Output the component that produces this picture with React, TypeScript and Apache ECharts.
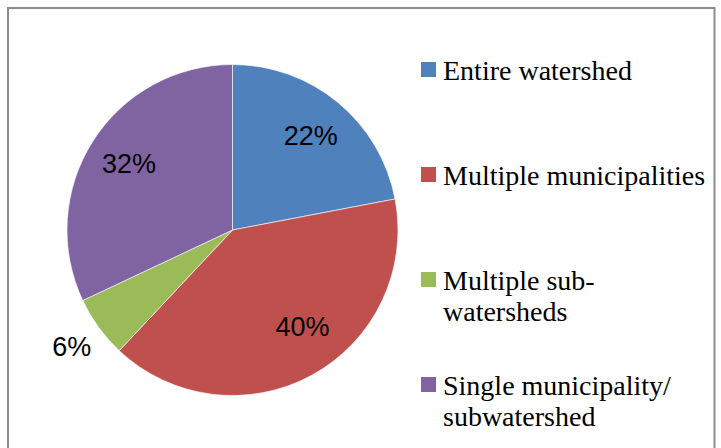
import React, { useEffect, useRef } from "react";
import * as echarts from "echarts";

// Scope of the plans, share of respondents (%)
const categories = [
  "Entire watershed",
  "Multiple municipalities",
  "Multiple sub-\nwatersheds",
  "Single municipality/\nsubwatershed",
];
const shares = [22, 40, 6, 32];
const sliceColors = ["#4F81BD", "#C0504D", "#9BBB59", "#8064A2"];

// label placement: radial position as a fraction of the radius, plus a small nudge
const labelRadius = [0.715, 0.715, 1.165, 0.715];
const labelNudge = [
  [0, 0],
  [11, -10],
  [1, 0],
  [0, 0],
];

const CX = 232.5;
const CY = 230;
const R = 165.5;

export default function App() {
  const ref = useRef<HTMLDivElement>(null);

  useEffect(() => {
    if (!ref.current) return;
    const chart = echarts.init(ref.current, undefined, { renderer: "svg" });

    const legendTop = 62;
    const legendStep = 105;
    const legendItems: any[] = [];
    categories.forEach((name, i) => {
      legendItems.push({
        type: "rect",
        shape: { x: 421, y: legendTop + i * legendStep, width: 15, height: 15 },
        style: { fill: sliceColors[i] },
        silent: true,
      });
      legendItems.push({
        type: "text",
        x: 443,
        y: legendTop - 6.7 + i * legendStep,
        style: {
          text: name,
          fontFamily: "Liberation Serif",
          fontSize: 28,
          lineHeight: 31,
          fill: "#000",
          verticalAlign: "top",
          align: "left",
        },
        silent: true,
      });
    });

    chart.setOption({
      animation: false,
      backgroundColor: "#fff",
      graphic: [
        {
          type: "rect",
          shape: { x: 8, y: 8, width: 706.5, height: 470 },
          style: { fill: "none", stroke: "#8c8c8c", lineWidth: 2 },
          silent: true,
        },
        ...legendItems,
      ],
      series: [
        {
          type: "pie",
          center: [CX, CY],
          radius: R,
          startAngle: 90,
          clockwise: true,
          avoidLabelOverlap: false,
          emphasis: { disabled: true },
          itemStyle: { borderColor: "#ffffff", borderWidth: 0.6 },
          label: {
            show: true,
            position: "inside",
            formatter: "{c}%",
            fontFamily: "Liberation Sans",
            fontSize: 27,
            color: "#000",
          },
          labelLine: { show: false },
          labelLayout: (p: any) => {
            const i = p.dataIndex;
            const r = p.labelRect;
            const lx = r.x + r.width / 2;
            const ly = r.y + r.height / 2;
            const k = labelRadius[i] / 0.5;
            return {
              dx: (lx - CX) * (k - 1) + labelNudge[i][0],
              dy: (ly - CY) * (k - 1) + labelNudge[i][1],
            };
          },
          data: categories.map((name, i) => ({
            name,
            value: shares[i],
            itemStyle: { color: sliceColors[i] },
          })),
        },
      ],
    });

    return () => chart.dispose();
  }, []);

  return (
    <div
      ref={ref}
      style={{ position: "fixed", left: 0, top: 0, width: 721, height: 448 }}
    />
  );
}
